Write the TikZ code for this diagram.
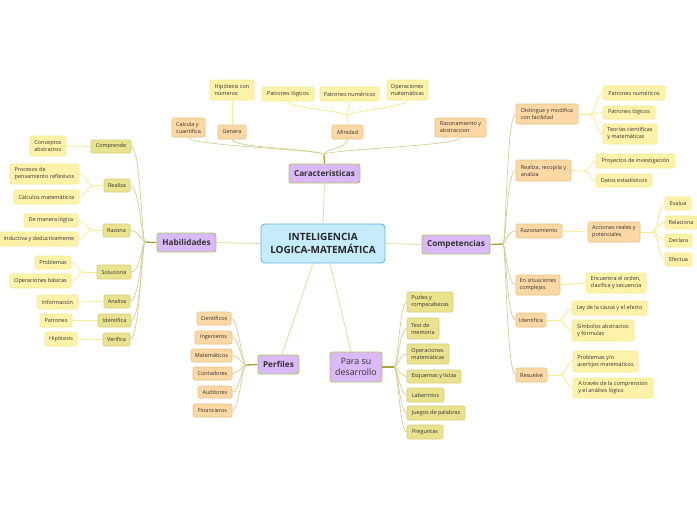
\documentclass[tikz,border=0pt]{standalone}
\usepackage{fontspec}
\setmainfont{Open Sans}
\usetikzlibrary{backgrounds}
\definecolor{cFill}{HTML}{C6EBFB}\definecolor{cLine}{HTML}{5DB7E6}
\definecolor{pFill}{HTML}{D9B9F7}\definecolor{pLine}{HTML}{A9C95B}
\definecolor{oFill}{HTML}{FDD8A4}\definecolor{oLine}{HTML}{E6C482}
\definecolor{kFill}{HTML}{E9E390}\definecolor{kLine}{HTML}{D5CE76}
\definecolor{yFill}{HTML}{FDF2A9}\definecolor{yLine}{HTML}{F7E98E}
\definecolor{tkC}{HTML}{D6E4A2}\definecolor{brC}{HTML}{D3CF93}
\definecolor{stC}{HTML}{A9A03A}\definecolor{lfC}{HTML}{F8EB90}
\definecolor{txtC}{HTML}{333333}
\newcommand\bx[7]{\node[#6,minimum width={#4-#2},minimum height={#5-#3}] (#1) at ({(#2+#4)/2},{(#3+#5)/2}) {#7};}
\tikzset{
  boxbase/.style={rounded corners=2pt,line width=0.6pt,inner xsep=1pt,inner ysep=0.5pt,align=left,text=txtC,font=\fontsize{5.5}{7}\selectfont},
  ob/.style={boxbase,fill=oFill,draw=oLine},
  kb/.style={boxbase,fill=kFill,draw=kLine},
  yb/.style={boxbase,fill=yFill,draw=yLine},
  mb/.style={rounded corners=2.5pt,line width=0.9pt,fill=pFill,draw=pLine,inner sep=1pt,align=center,text=txtC,font=\bfseries\fontsize{8.2}{10}\selectfont},
  cb/.style={rounded corners=4pt,line width=0.9pt,fill=cFill,draw=cLine,inner sep=1pt,align=center,text=black!85,font=\bfseries\fontsize{10}{13}\selectfont},
  trunk/.style={draw=tkC,line width=0.8pt},
  brl/.style={draw=brC,line width=0.7pt},
  stubl/.style={draw=stC,line width=1.3pt},
  lfl/.style={draw=lfC,line width=0.8pt},
}
\begin{document}
\begin{tikzpicture}[x=1pt,y=-1pt]
\useasboundingbox (0,0) rectangle (697,520);
% central and main
\bx{cen}{261}{224}{385}{263}{cb}{INTELIGENCIA\\LOGICA-MATEMÁTICA}
\bx{car}{289}{164}{360}{183}{mb}{Caracteristicas}
\bx{hab}{157}{233}{216}{252}{mb}{Habilidades}
\bx{com}{422}{235}{490}{254}{mb}{Competencias}
\bx{per}{258}{355}{299}{374}{mb}{Perfiles}
\bx{des}{330}{352}{382}{382}{mb,font=\fontsize{8.8}{11}\selectfont}{Para su\\desarrollo}
% caracteristicas
\bx{cCal}{172}{118}{205}{137}{ob}{Calcula y\\cuantifica}
\bx{cGen}{218}{125}{246}{139}{ob}{Genera}
\bx{cAfi}{332}{125}{363}{139}{ob}{Afinidad}
\bx{cRaz}{435}{118}{486}{137}{ob}{Razonamiento y\\abstraccion}
\bx{cHip}{210}{80}{254}{100}{yb}{Hipótesis con\\números}
\bx{cPl}{262}{87}{314}{101}{yb}{Patrones lógicos}
\bx{cPn}{320}{87}{379}{101}{yb}{Patrones numéricos}
\bx{cOm}{387}{80}{428}{100}{yb}{Operaciones\\matemáticas}
% habilidades
\bx{hComp}{91}{140}{131}{153}{kb}{Comprende}
\bx{hReal}{104}{179}{130}{192}{kb}{Realiza}
\bx{hRaz}{103}{224}{130}{237}{kb}{Razona}
\bx{hSol}{97}{265}{131}{279}{kb}{Soluciona}
\bx{hAna}{104}{295}{130}{308}{kb}{Analiza}
\bx{hIde}{98}{314}{131}{327}{kb}{Identifica}
\bx{hVer}{103}{333}{130}{346}{kb}{Verifica}
\bx{lCon}{30}{136}{66}{156}{yb}{Conceptos\\abstractos}
\bx{lPro}{10}{164}{79}{184}{yb}{Procesos de\\pensamiento reflexivos}
\bx{lCal}{14}{190}{79}{204}{yb}{Cálculos matemáticos}
\bx{lDem}{24}{214}{78}{227}{yb}{De manera lógica}
\bx{lInd}{0}{232}{78}{246}{yb}{Inductiva y deductivamente}
\bx{lPrb}{35}{256}{71}{269}{yb}{Problemas}
\bx{lOpb}{10}{274}{71}{288}{yb}{Operaciones básicas}
\bx{lInf}{37}{295}{78}{309}{yb}{Información}
\bx{lPat}{40}{314}{72}{327}{yb}{Patrones}
\bx{lHip}{45}{332}{77}{346}{yb}{Hipótesis}
% competencias
\bx{pDis}{516}{104}{578}{124}{ob}{Distingue y modifica\\con facilidad}
\bx{pRea}{516}{160}{571}{181}{ob}{Realiza, recopila y\\analiza}
\bx{pRaz}{516}{224}{562}{238}{ob}{Razonamiento}
\bx{pSit}{516}{275}{560}{295}{ob}{En situaciones\\complejas}
\bx{pIde}{516}{313}{546}{327}{ob}{Identifica}
\bx{pRes}{516}{368}{547}{382}{ob}{Resuelve}
\bx{qPn}{603}{86}{665}{100}{yb}{Patrones numéricos}
\bx{qPl}{603}{106}{655}{119}{yb}{Patrones lógicos}
\bx{qTeo}{603}{124}{657}{144}{yb}{Teorías científicas\\y matemáticas}
\bx{qPro}{596}{154}{675}{168}{yb}{Proyectos de investigación}
\bx{qDat}{596}{174}{652}{187}{yb}{Datos estadísticos}
\bx{qAcc}{588}{222}{640}{242}{ob}{Acciones reales y\\potenciales}
\bx{qEva}{665}{197}{691}{210}{yb}{Evalua}
\bx{qRel}{665}{216}{697}{229}{yb}{Relaciona}
\bx{qDec}{665}{234}{692}{247}{yb}{Declara}
\bx{qEfe}{665}{253}{692}{266}{yb}{Efectua}
\bx{qEnc}{586}{273}{646}{293}{yb}{Encuentra el orden,\\clasifica y secuencia}
\bx{qLey}{572}{301}{647}{315}{yb}{Ley de la causa y el efecto}
\bx{qSim}{572}{320}{634}{341}{yb}{Símbolos abstractos\\y fórmulas}
\bx{qPrb}{573}{351}{638}{372}{yb}{Problemas y/o\\acertijos matemáticos}
\bx{qTra}{573}{378}{653}{398}{yb}{A través de la comprensión\\y el análisis lógico}
% perfiles
\bx{fCie}{197}{312}{231}{325}{ob}{Científicos}
\bx{fIng}{195}{331}{232}{344}{ob}{Ingenieros}
\bx{fMat}{191}{349}{232}{362}{ob}{Matemáticos}
\bx{fCon}{193}{367}{232}{380}{ob}{Contadores}
\bx{fAud}{198}{386}{232}{398}{ob}{Auditores}
\bx{fFin}{193}{404}{232}{417}{ob}{Financieros}
% para su desarrollo
\bx{dPuz}{407}{292}{453}{312}{kb}{Puzles y\\rompecabezas}
\bx{dTes}{407}{318}{439}{339}{kb}{Test de\\memoria}
\bx{dOpe}{407}{344}{449}{364}{kb}{Operaciones\\matemáticas}
\bx{dEsq}{407}{370}{461}{383}{kb}{Esquemas y listas}
\bx{dLab}{407}{388}{444}{402}{kb}{Laberintos}
\bx{dJue}{407}{406}{465}{420}{kb}{Juegos de palabras}
\bx{dPre}{407}{425}{443}{439}{kb}{Preguntas}
% hubs
\coordinate (cH) at (324,155);
\coordinate (aH) at (347,116);
\coordinate (hH) at (145,242);
\coordinate (pH) at (503,244);
\coordinate (fH) at (246,365);
\coordinate (dH) at (394,367);
\coordinate (hRealH) at (93,186);
\coordinate (hRazH) at (93,230);
\coordinate (hSolH) at (84,272);
\coordinate (pDisH) at (590,114);
\coordinate (pReaH) at (584,171);
\coordinate (qAccH) at (652,232);
\coordinate (pIdeH) at (559,320);
\coordinate (pResH) at (560,375);
\begin{scope}[on background layer]
\fill[white] (0,0) rectangle (697,520);
% trunks
\draw[trunk] (cen.north) -- (car.south);
\draw[trunk] (cen.west) -- (hab.east);
\draw[trunk] (cen.east) -- (com.west);
\draw[trunk] (cen.south -| 313,0) -- (per.north -| 282,0);
\draw[trunk] (cen.south -| 330,0) -- (des.north -| 351,0);
% caracteristicas
\draw[stubl] (car.north) -- (cH);
\foreach \n in {cCal,cGen,cAfi,cRaz}
  \draw[brl] (cH) .. controls +(0,-6) and +(0,9) .. (\n.south);
\draw[lfl] (cAfi.north) -- (aH);
\foreach \n in {cPl,cPn,cOm}
  \draw[lfl] (aH) .. controls +(0,-5) and +(0,7) .. (\n.south);
\draw[lfl] (cGen.north) -- (cHip.south);
% habilidades
\draw[stubl] (hab.west) -- (hH);
\foreach \n in {hComp,hReal,hRaz,hSol,hAna,hIde,hVer}
  \draw[brl] (hH) .. controls +(-3,0) and +(9,0) .. (\n.east);
\draw[lfl] (hComp.west) -- (lCon.east);
\draw[lfl] (hReal.west) -- (hRealH);
\foreach \n in {lPro,lCal} \draw[lfl] (hRealH) .. controls +(-6,0) and +(6,0) .. (\n.east);
\draw[lfl] (hRaz.west) -- (hRazH);
\foreach \n in {lDem,lInd} \draw[lfl] (hRazH) .. controls +(-6,0) and +(6,0) .. (\n.east);
\draw[lfl] (hSol.west) -- (hSolH);
\foreach \n in {lPrb,lOpb} \draw[lfl] (hSolH) .. controls +(-6,0) and +(6,0) .. (\n.east);
\draw[lfl] (hAna.west) -- (lInf.east);
\draw[lfl] (hIde.west) -- (lPat.east);
\draw[lfl] (hVer.west) -- (lHip.east);
% competencias
\draw[stubl] (com.east) -- (pH);
\foreach \n in {pDis,pRea,pRaz,pSit,pIde,pRes}
  \draw[brl] (pH) .. controls +(3,0) and +(-9,0) .. (\n.west);
\draw[lfl] (pDis.east) -- (pDisH);
\foreach \n in {qPn,qPl,qTeo} \draw[lfl] (pDisH) .. controls +(6,0) and +(-6,0) .. (\n.west);
\draw[lfl] (pRea.east) -- (pReaH);
\foreach \n in {qPro,qDat} \draw[lfl] (pReaH) .. controls +(6,0) and +(-6,0) .. (\n.west);
\draw[lfl] (pRaz.east) -- (qAcc.west);
\draw[lfl] (qAcc.east) -- (qAccH);
\foreach \n in {qEva,qRel,qDec,qEfe} \draw[lfl] (qAccH) .. controls +(6,0) and +(-6,0) .. (\n.west);
\draw[lfl] (pSit.east) -- (qEnc.west);
\draw[lfl] (pIde.east) -- (pIdeH);
\foreach \n in {qLey,qSim} \draw[lfl] (pIdeH) .. controls +(6,0) and +(-6,0) .. (\n.west);
\draw[lfl] (pRes.east) -- (pResH);
\foreach \n in {qPrb,qTra} \draw[lfl] (pResH) .. controls +(6,0) and +(-6,0) .. (\n.west);
% perfiles
\draw[stubl] (per.west) -- (fH);
\foreach \n in {fCie,fIng,fMat,fCon,fAud,fFin}
  \draw[brl] (fH) .. controls +(-4,0) and +(7,0) .. (\n.east);
% desarrollo
\draw[stubl] (des.east) -- (dH);
\foreach \n in {dPuz,dTes,dOpe,dEsq,dLab,dJue,dPre}
  \draw[brl] (dH) .. controls +(4,0) and +(-7,0) .. (\n.west);
\end{scope}
\end{tikzpicture}
\end{document}
